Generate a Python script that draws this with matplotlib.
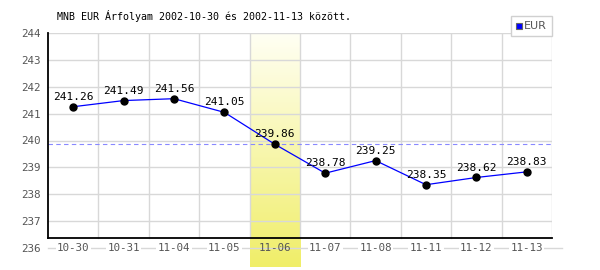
import numpy as np
import matplotlib
matplotlib.use("Agg")
import matplotlib.pyplot as plt
from matplotlib.patches import Rectangle
from matplotlib.colors import LinearSegmentedColormap

categories = ["10-30", "10-31", "11-04", "11-05", "11-06", "11-07", "11-08", "11-11", "11-12", "11-13"]
values = [241.26, 241.49, 241.56, 241.05, 239.86, 238.78, 239.25, 238.35, 238.62, 238.83]
yticks = [236, 237, 238, 239, 240, 241, 242, 243, 244]
highlight_index = 4
ref_value = 239.86
title = "MNB EUR Árfolyam 2002-10-30 és 2002-11-13 között."
series_name = "EUR"

W, H = 600, 270
fig = plt.figure(figsize=(W / 100, H / 100), dpi=100)
left_px, right_px, top_px, bottom_px = 48, 552, 33.3, 267
ax = fig.add_axes([left_px / W, 1 - bottom_px / H, (right_px - left_px) / W, (bottom_px - top_px) / H])
px_per_unit = 26.8
ymax = 244
ymin = ymax - (bottom_px - top_px) / px_per_unit
base_val = ymax - (238.3 - top_px) / px_per_unit
n = len(categories)
for s in ax.spines.values():
    s.set_visible(False)
ax.set_xticks([])
ax.set_yticks(yticks)
ax.set_yticklabels([str(t) for t in yticks], color="#555555", fontsize=7.8, family="DejaVu Sans Mono")
ax.tick_params(axis="y", length=0, pad=5)

# highlight band gradient (pale at top, yellow at bottom)
grad = np.linspace(1, 0, 256).reshape(-1, 1)
cmap = LinearSegmentedColormap.from_list("hl", ["#fffff4", "#f0ee68"])
ax.imshow(grad, extent=[highlight_index - 0.5, highlight_index + 0.5, ymin, ymax],
          aspect="auto", cmap=cmap, zorder=0, origin="lower", vmin=0, vmax=1)
ax.set_xlim(-0.5, n - 0.5)
ax.set_ylim(ymin, ymax)

grid_c = "#d8d8d8"
for t in yticks[1:]:
    ax.plot([-0.5, n - 0.5], [t, t], color=grid_c, lw=1, zorder=1)
ax.plot([-0.5, n - 0.3], [236, 236], color=grid_c, lw=1, zorder=1, clip_on=False)
for b in np.arange(0.5, n, 1.0):
    ax.plot([b, b], [base_val, ymax], color=grid_c, lw=1, zorder=1)

ax.plot([-0.5, n - 0.5], [ref_value, ref_value], color="#8888ff", lw=0.8, ls=(0, (4, 3)), zorder=2)

ax.plot([-0.5, n - 0.5], [base_val, base_val], color="black", lw=1.3, zorder=3, clip_on=False)
ax.plot([-0.5, -0.5], [base_val, ymax], color="black", lw=1.3, zorder=3, clip_on=False)

x = np.arange(n)
ax.plot(x, values, color="#0000ff", lw=0.9, zorder=4)
ax.plot(x, values, "o", color="black", ms=5, zorder=5)
for xi, v in zip(x, values):
    ax.annotate(f"{v:.2f}", (xi, v), xytext=(0, 3.5), textcoords="offset points",
                ha="center", va="bottom", fontsize=8, family="DejaVu Sans Mono", color="black", zorder=6)

for xi, c in zip(x, categories):
    ax.text(xi, 236, c, ha="center", va="center", fontsize=7.8, color="#555555",
            family="DejaVu Sans Mono", zorder=2,
            bbox=dict(facecolor="white", edgecolor="none", pad=1.0, alpha=0 if xi == highlight_index else 1))

fig.text(57 / W, 1 - 16 / H, title, ha="left", va="center", fontsize=7.2, family="DejaVu Sans Mono", color="black")

fig.patches.append(Rectangle((511 / W, 1 - 36 / H), 41 / W, 20 / H, transform=fig.transFigure,
                             facecolor="white", edgecolor="#d0d0d0", lw=1, zorder=10))
fig.patches.append(Rectangle((515.5 / W, 1 - 29 / H), 6 / W, 6 / H, transform=fig.transFigure,
                             facecolor="#0000ff", edgecolor="#666666", lw=0.8, zorder=11))
fig.text(524 / W, 1 - 26 / H, series_name, ha="left", va="center", fontsize=8, color="#555555", zorder=12)

fig.savefig("out.png", dpi=100)
